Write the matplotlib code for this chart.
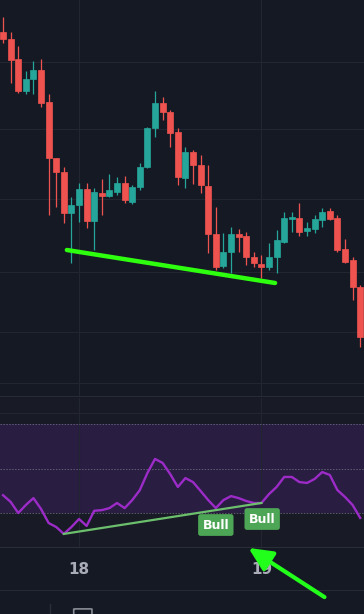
import matplotlib
matplotlib.use('Agg')
import matplotlib.pyplot as plt
from matplotlib.patches import FancyArrowPatch, FancyBboxPatch
import numpy as np

# Data (hourly candles, price units arbitrary)
opens  = [368, 361, 341, 309, 321, 330, 298, 242, 228, 187, 195, 211, 179, 207, 204, 208,
          217, 198, 213, 233, 272, 297, 288, 268, 222, 248, 235, 214, 166, 134, 148, 166,
          164, 143, 136, 133, 143, 158, 181, 182, 169, 171, 180, 189, 182, 151, 140, 113]
highs  = [383, 368, 354, 329, 339, 341, 306, 242, 233, 203, 217, 217, 212, 221, 226, 223,
          224, 215, 237, 273, 309, 303, 290, 272, 253, 250, 245, 235, 193, 167, 173, 171,
          168, 148, 145, 157, 170, 188, 188, 197, 178, 185, 192, 192, 185, 161, 143, 115]
lows   = [357, 317, 307, 306, 306, 293, 185, 193, 177, 137, 178, 172, 150, 185, 203, 205,
          197, 196, 210, 232, 263, 280, 253, 215, 212, 216, 207, 147, 130, 132, 127, 148,
          135, 133, 122, 130, 127, 157, 168, 164, 164, 167, 173, 180, 148, 137, 100, 53]
closes = [361, 340, 309, 321, 330, 297, 242, 228, 187, 195, 211, 179, 208, 204, 210, 217,
          200, 213, 233, 272, 297, 288, 267, 223, 248, 235, 215, 166, 133, 148, 166, 163,
          143, 137, 133, 143, 160, 182, 183, 168, 172, 181, 188, 181, 150, 138, 113, 63]
rsi = [38.0, 35.0, 30.0, 33.6, 36.7, 31.8, 25.5, 23.7, 20.6, 23.7, 27.3, 24.2, 31.0, 31.3,
       32.2, 34.5, 32.2, 35.8, 40.3, 48.0, 54.3, 52.5, 47.5, 41.7, 45.7, 43.9, 39.9, 35.8,
       32.2, 35.8, 37.6, 36.7, 35.4, 34.5, 34.5, 38.5, 41.7, 46.2, 46.2, 43.9, 43.5, 45.3,
       48.4, 47.1, 40.3, 37.2, 33.6, 27.8]
day_ticks = [10, 34]
day_labels = ['18', '19']
price_grid = [338, 271, 201, 128, 68, 17]
rsi_levels = [70, 50, 30]
# hand-drawn divergence lines (candle index, value)
price_div_x, price_div_y = [8.4, 35.8], [150, 117]
rsi_div_x, rsi_div_y = [8, 34], [20.6, 34.5]
bull_x, bull_y = [28.0, 34.1], [24.6, 27.3]

BG = '#151924'
GRID = '#222631'
UP, DOWN = '#26a69a', '#ef5350'
W, H = 364, 614

fig = plt.figure(figsize=(W / 100, H / 100), dpi=100, facecolor=BG)
ax = fig.add_axes([0, 217 / H, 1, 397 / H])
ax_r = fig.add_axes([0, 66 / H, 1, 150 / H])
ax_t = fig.add_axes([0, 23 / H, 1, 43 / H])
ax_b = fig.add_axes([0, 0, 1, 23 / H])
ax_r.set_zorder(5)

for a in (ax, ax_r, ax_t, ax_b):
    a.set_facecolor(BG)
    a.set_xlim(-0.4, 47.5)
    a.set_xticks([])
    a.set_yticks([])
    for s in a.spines.values():
        s.set_visible(False)

# --- price pane
ax.set_ylim(3, 400)
for g in price_grid:
    ax.axhline(g, color=GRID, lw=0.8, zorder=0)
for d in day_ticks:
    ax.axvline(d, color=GRID, lw=0.8, zorder=0)

idx = np.arange(len(opens))
o, c = np.array(opens), np.array(closes)
cols = [UP if cc >= oo else DOWN for oo, cc in zip(o, c)]
ax.vlines(idx, lows, highs, colors=cols, lw=0.9, zorder=2)
ax.bar(idx, np.abs(c - o), bottom=np.minimum(o, c), width=0.78,
       color=cols, edgecolor=cols, lw=0.5, zorder=3)
ax.plot(price_div_x, price_div_y, color='#2dff0f', lw=3.2,
        solid_capstyle='round', zorder=5)
ax.axhline(3, color='#2a2e39', lw=2.0)

# --- RSI pane
ax_r.set_ylim(14.27, 81.69)
ax_r.set_facecolor('#181b26')
ax_r.axhspan(rsi_levels[2], rsi_levels[0], color='#291d42', lw=0, zorder=0)
ax_r.axhline(75.1, color=GRID, lw=0.8, zorder=0)
for d in day_ticks:
    ax_r.axvline(d, color=GRID, lw=0.8, zorder=0.5)
for lv in rsi_levels:
    ax_r.axhline(lv, color='#787b86', lw=0.7, ls=(0, (1.5, 1.5)), alpha=0.7, zorder=1)
ax_r.plot(idx, rsi, color='#9c2bc8', lw=1.7, zorder=3)
ax_r.plot(rsi_div_x, rsi_div_y, color='#6cbf6c', lw=1.6, zorder=4)
for bx, by in zip(bull_x, bull_y):
    ax_r.text(bx, by, 'Bull', ha='center', va='center', fontsize=9, fontweight='bold',
              color='white', zorder=6,
              bbox=dict(boxstyle='round,pad=0.35,rounding_size=0.2', fc='#4ca655', ec='none'))
ax_r.axhline(14.27, color='#2a2e39', lw=1.5)

# arrow pointing at the second signal
ax_r.add_patch(FancyArrowPatch((42.3, -7.8), (32.3, 14.3),
                               arrowstyle='-|>,head_length=0.95,head_width=0.45',
                               mutation_scale=15, color='#22ff1a', lw=3, clip_on=False,
                               zorder=10, shrinkA=0, shrinkB=0))

# --- time axis
ax_t.set_ylim(0, 1)
for d, lab in zip(day_ticks, day_labels):
    ax_t.text(d, 0.5, lab, ha='center', va='center', fontsize=11, fontweight='bold',
              color='#a9acb6')
ax_t.axhline(0, color='#2a2e39', lw=1.2)

# --- bottom toolbar stub
ax_b.set_ylim(0, 23)
ax_b.plot([6.2, 6.2], [0, 10], color='#2a2e39', lw=1)
ax_b.add_patch(FancyBboxPatch((9.4, -4), 2.2, 9, boxstyle='round,pad=0.1,rounding_size=0.3',
                              fc='none', ec='#8a8d96', lw=1.2))

fig.savefig('out.png', dpi=100, facecolor=BG)
plt.close()
